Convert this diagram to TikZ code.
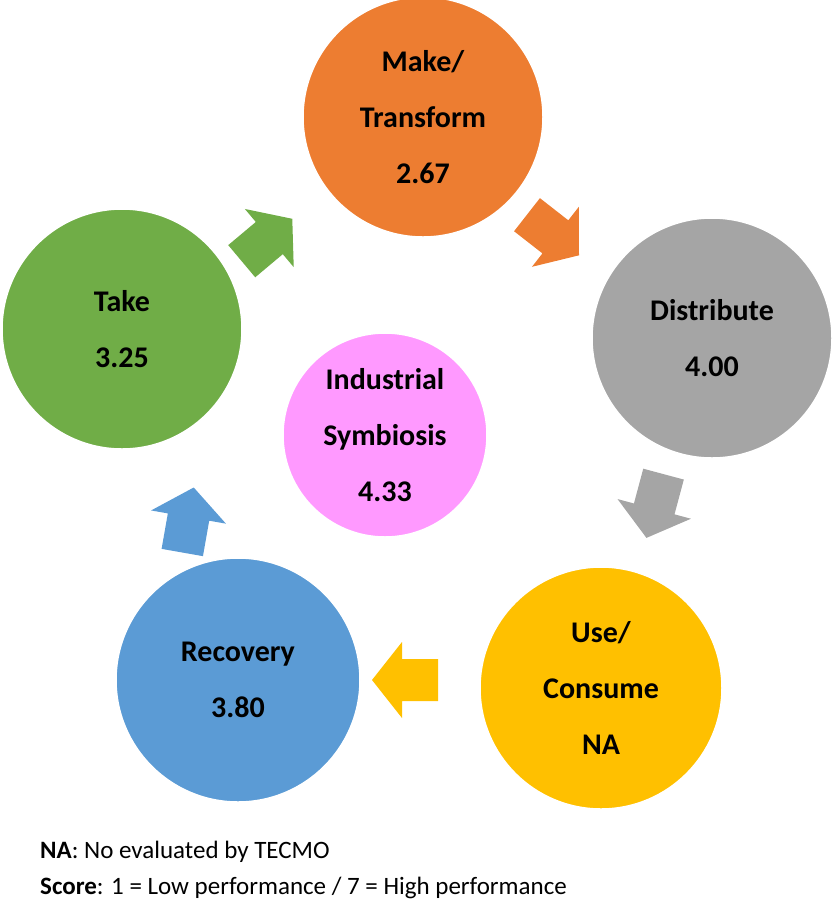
\documentclass[tikz,border=0pt]{standalone}
\usepackage{fontspec}
\setmainfont{Carlito}
\definecolor{cgreen}{HTML}{70AD47}
\definecolor{corange}{HTML}{ED7D31}
\definecolor{cgray}{HTML}{A5A5A5}
\definecolor{cyellow}{HTML}{FFC000}
\definecolor{cblue}{HTML}{5B9BD5}
\definecolor{cpink}{HTML}{FF99FF}
\begin{document}
\begin{tikzpicture}[x=1pt,y=-1pt,
  circ/.style={circle,draw=white,line width=1.5pt,inner sep=0pt,align=center,font=\fontsize{30}{56}\selectfont\bfseries},
  foot/.style={anchor=west,font=\fontsize{25}{28}\selectfont,inner sep=0pt},
  pics/barr/.style={code={\fill (-33,-21) -- (3,-21) -- (3,-38) -- (33,0) -- (3,38) -- (3,21) -- (-33,21) -- cycle;}}]
\useasboundingbox (0,0) rectangle (839,914);
\node[circ,fill=corange,minimum size=240pt] (make) at (423,117) {Make/\\Transform\\2.67};
\node[circ,fill=cgray,minimum size=240pt] (dist) at (712,338) {Distribute\\4.00};
\node[circ,fill=cyellow,minimum size=242pt] (use) at (601,688) {Use/\\Consume\\NA};
\node[circ,fill=cblue,minimum size=244pt] (rec) at (238,680) {Recovery\\3.80};
\node[circ,fill=cgreen,minimum size=240pt] (take) at (122,329) {Take\\3.25};
\node[circ,fill=cpink,minimum size=204pt] (ind) at (385,435) {Industrial\\Symbiosis\\4.33};
\pic[fill=cgreen,rotate=40] (a1) at (267,240) {barr};
\pic[fill=corange,rotate=-38] (a2) at (553,235) {barr};
\pic[fill=cgray,rotate=-105] (a3) at (655,506) {barr};
\pic[fill=cyellow,rotate=180] (a4) at (405,680) {barr};
\pic[fill=cblue,rotate=80] (a5) at (188,520) {barr};
\node[foot] (n1) at (40,852) {\textbf{NA}: No evaluated by TECMO};
\node[foot] (n2) at (40,888) {\textbf{Score}: 1 = Low performance / 7 = High performance};
\end{tikzpicture}
\end{document}
